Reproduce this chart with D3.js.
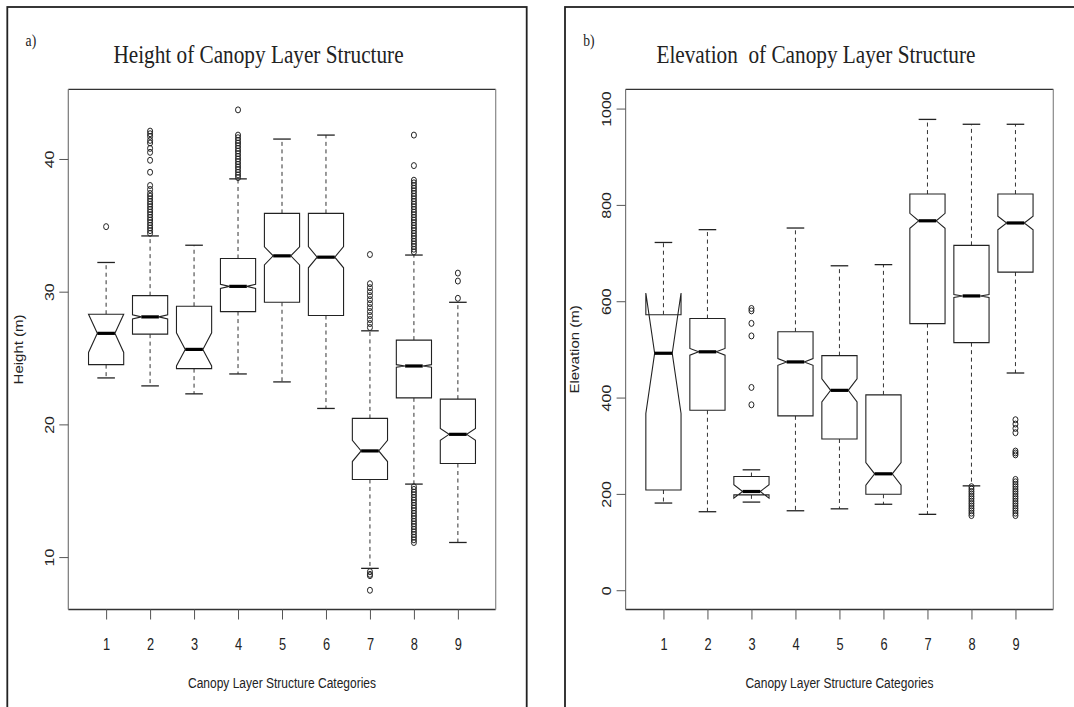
<!doctype html>
<html lang="en">
<head>
  <meta charset="utf-8">
  <title>Canopy Layer Structure</title>
  <script src="https://cdnjs.cloudflare.com/ajax/libs/d3/7.8.5/d3.min.js"></script>
  <style>
    body { margin: 0; background: #fff; }
    svg { display: block; }
  </style>
</head>
<body>
<svg width="1074" height="707" id="svg"></svg>
<script>

// categories on the x axis
var categories = [1, 2, 3, 4, 5, 6, 7, 8, 9];

// a) height (m): lower whisker, Q1, median, Q3, upper whisker, notch half-width
var heightLo    = [23.5, 22.9, 22.3, 23.8, 23.2, 21.2, 9.15, 15.5, 11.1];
var heightQ1    = [24.5, 26.8, 24.2, 28.5, 29.2, 28.2, 15.85, 22.0, 17.05];
var heightMed   = [26.86, 28.1, 25.65, 30.4, 32.7, 32.6, 18.0, 24.4, 19.25];
var heightQ3    = [28.3, 29.7, 28.9, 32.5, 35.9, 35.9, 20.45, 26.35, 21.9];
var heightHi    = [32.2, 34.2, 33.5, 38.5, 41.5, 41.8, 27.05, 32.76, 29.2];
var heightNotch = [1.44, 0.15, 1.25, 0.15, 0.68, 0.8, 0.8, 0.1, 0.45];
var heightOut = [
  [34.9],
  [42.1, 41.9, 41.7, 41.4, 41.2, 40.8, 40.5, 39.9, 39.0, 38.0, 37.7, 37.4, 37.2, 37.0, 36.8, 36.6, 36.4, 36.2, 36.0, 35.8, 35.6, 35.4, 35.2, 35.0, 34.8, 34.6, 34.4],
  [],
  [43.7, 41.8, 41.6, 41.4, 41.2, 41.0, 40.8, 40.6, 40.4, 40.2, 40.0, 39.8, 39.6, 39.4, 39.2, 39.0, 38.8, 38.6],
  [],
  [],
  [32.8, 30.6, 30.3, 30.0, 29.7, 29.4, 29.1, 28.8, 28.5, 28.2, 27.9, 27.6, 27.3, 8.9, 8.7, 8.6, 7.5],
  [41.8, 39.5, 38.4, 38.2, 38.0, 37.8, 37.6, 37.4, 37.2, 37.0, 36.8, 36.6, 36.4, 36.2, 36.0, 35.8, 35.6, 35.4, 35.2, 35.0, 34.8, 34.6, 34.4, 34.2, 34.0, 33.8, 33.6, 33.4, 33.2, 33.0,
   15.3, 15.1, 14.9, 14.7, 14.5, 14.3, 14.1, 13.9, 13.7, 13.5, 13.3, 13.1, 12.9, 12.7, 12.5, 12.3, 12.1, 11.9, 11.7, 11.5, 11.3, 11.1],
  [31.4, 30.8, 29.5]
];
var heightTicks = [10, 20, 30, 40];

// b) elevation (m)
var elevLo    = [181, 163, 183, 165, 169, 178.5, 157.6, 216.7, 451];
var elevQ1    = [208, 373.6, 198, 362, 314, 199.3, 553.5, 514, 660.5];
var elevMed   = [492, 495, 205, 474, 415, 241.7, 767, 611, 762.5];
var elevQ3    = [572, 564, 236, 536.5, 487, 405.6, 822.5, 716, 822.5];
var elevHi    = [722, 748.6, 250, 752, 673.6, 676, 977.5, 967.4, 967.4];
var elevNotch = [125, 7, 14, 7, 24, 23.5, 15.5, 3, 14];
var elevOut = [
  [], [],
  [585, 580, 554, 528, 421, 385],
  [], [], [], [],
  [215, 210, 205, 200, 195, 190, 185, 180, 175, 170, 165, 160, 155],
  [354, 345, 336, 327, 289, 285, 281, 230, 225, 220, 215, 210, 205, 200, 195, 190, 185, 180, 175, 170, 165, 160, 155]
];
var elevTicks = [0, 200, 400, 600, 800, 1000];

var svg = d3.select('#svg');
var ink = '#222';
var sans = '"Liberation Sans", Arial, sans-serif';
var serif = '"Liberation Serif", "Times New Roman", serif';

// the source figure is squeezed horizontally, so text is too
function label(g, x, y, txt, size, font, sx, rot, anchor) {
  return g.append('text')
    .attr('transform', 'translate(' + x + ',' + y + ') scale(' + sx + ',1)' + (rot ? ' rotate(' + rot + ')' : ''))
    .attr('text-anchor', anchor || 'middle')
    .style('font-family', font)
    .style('font-size', size + 'px')
    .attr('fill', ink)
    .text(txt);
}

function drawPanel(p) {
  var g = svg.append('g');

  // outer frame of the panel
  g.append('rect')
    .attr('x', p.frame[0]).attr('y', 7)
    .attr('width', p.frame[1] - p.frame[0]).attr('height', 720)
    .attr('fill', 'none').attr('stroke', ink).attr('stroke-width', 1.8);

  var x = d3.scaleLinear().domain([0.14, 9.86]).range(p.xRange);
  var y = d3.scaleLinear().domain(p.yDomain).range([609.5, 89.3]);
  var top = y.range()[1], bot = y.range()[0];

  // plot box
  g.append('line').attr('x1', p.xRange[0]).attr('x2', p.xRange[1]).attr('y1', top).attr('y2', top)
    .attr('stroke', '#333').attr('stroke-width', 1.3);
  g.append('line').attr('x1', p.xRange[0]).attr('x2', p.xRange[1]).attr('y1', bot).attr('y2', bot)
    .attr('stroke', '#333').attr('stroke-width', 1.3);
  g.append('line').attr('x1', p.xRange[0]).attr('x2', p.xRange[0]).attr('y1', top).attr('y2', bot)
    .attr('stroke', '#777').attr('stroke-width', 1.2);
  g.append('line').attr('x1', p.xRange[1]).attr('x2', p.xRange[1]).attr('y1', top).attr('y2', bot)
    .attr('stroke', '#888').attr('stroke-width', 1.2);

  // axes
  var xa = g.append('g').attr('transform', 'translate(0,' + bot + ')')
    .call(d3.axisBottom(x).tickValues(categories).tickSize(10).tickSizeOuter(0).tickFormat(d3.format('d')));
  xa.select('.domain').remove();
  xa.selectAll('line').attr('stroke', '#555');
  xa.selectAll('text')
    .attr('y', null).attr('dy', null)
    .attr('transform', 'translate(0,40) scale(0.8,1)')
    .style('font-family', sans).style('font-size', '16px').attr('fill', ink);

  var ya = g.append('g').attr('transform', 'translate(' + p.xRange[0] + ',0)')
    .call(d3.axisLeft(y).tickValues(p.yTicks).tickSize(9).tickSizeOuter(0).tickFormat(d3.format('d')));
  ya.select('.domain').remove();
  ya.selectAll('line').attr('stroke', '#555');
  ya.selectAll('text')
    .attr('x', null).attr('dy', null)
    .attr('transform', 'translate(-14.5,0) scale(0.8,1) rotate(-90)')
    .attr('text-anchor', 'middle')
    .style('font-family', sans).style('font-size', '16px').attr('fill', ink);

  // boxes
  var w = 0.4, nf = 0.5, st = 0.2;
  var poly = d3.line().x(function(d) { return x(d[0]); }).y(function(d) { return y(d[1]); });

  categories.forEach(function(c, i) {
    var bg = g.append('g');
    var lo = p.lo[i], q1 = p.q1[i], md = p.med[i], q3 = p.q3[i], hi = p.hi[i], n = p.notch[i];

    // dashed whiskers
    [[q3, hi], [q1, lo]].forEach(function(s) {
      bg.append('line')
        .attr('x1', x(c)).attr('x2', x(c)).attr('y1', y(s[0])).attr('y2', y(s[1]))
        .attr('stroke', '#333').attr('stroke-width', 1).attr('stroke-dasharray', '4,3.5');
    });
    // staples
    [hi, lo].forEach(function(v) {
      bg.append('line')
        .attr('x1', x(c - st)).attr('x2', x(c + st)).attr('y1', y(v)).attr('y2', y(v))
        .attr('stroke', ink).attr('stroke-width', 1.3);
    });

    // notched box outline
    var pts = [[c - w, q1], [c - w, md - n], [c - w * nf, md], [c - w, md + n], [c - w, q3],
               [c + w, q3], [c + w, md + n], [c + w * nf, md], [c + w, md - n], [c + w, q1]];
    bg.append('path')
      .attr('d', poly(pts) + 'Z')
      .attr('fill', '#fff').attr('stroke', ink).attr('stroke-width', 1.1);

    // median
    bg.append('line')
      .attr('x1', x(c - w * nf)).attr('x2', x(c + w * nf)).attr('y1', y(md)).attr('y2', y(md))
      .attr('stroke', '#000').attr('stroke-width', 3.2);

    // outliers
    bg.selectAll('ellipse')
      .data(p.out[i])
      .enter()
      .append('ellipse')
      .attr('cx', x(c))
      .attr('cy', function(d) { return y(d); })
      .attr('rx', 2.5).attr('ry', 3)
      .attr('fill', 'none').attr('stroke', ink).attr('stroke-width', 1);
  });

  var mid = (p.xRange[0] + p.xRange[1]) / 2;

  label(g, mid - 23.5, 63, p.title, 25, serif, 0.85).attr('xml:space', 'preserve');
  label(g, p.frame[0] + 18.3, 46, p.letter, 16, serif, 0.85, 0, 'start');
  label(g, mid, 688, 'Canopy Layer Structure Categories', 15, sans, 0.8);
  label(g, p.yLabelX, (top + bot) / 2, p.yLabel, 15, sans, 0.8, -90);
}

drawPanel({
  frame: [7.3, 526.7],
  xRange: [68.3, 495.7],
  yDomain: [6.05, 45.25],
  yTicks: heightTicks,
  lo: heightLo, q1: heightQ1, med: heightMed, q3: heightQ3, hi: heightHi, notch: heightNotch, out: heightOut,
  title: 'Height of Canopy Layer Structure',
  letter: 'a)',
  yLabel: 'Height (m)',
  yLabelX: 22.5
});

drawPanel({
  frame: [565, 1090],
  xRange: [625.6, 1053.3],
  yDomain: [-40, 1040],
  yTicks: elevTicks,
  lo: elevLo, q1: elevQ1, med: elevMed, q3: elevQ3, hi: elevHi, notch: elevNotch, out: elevOut,
  title: 'Elevation\u00a0 of Canopy Layer Structure',
  letter: 'b)',
  yLabel: 'Elevation (m)',
  yLabelX: 579
});

</script>
</body>
</html>
